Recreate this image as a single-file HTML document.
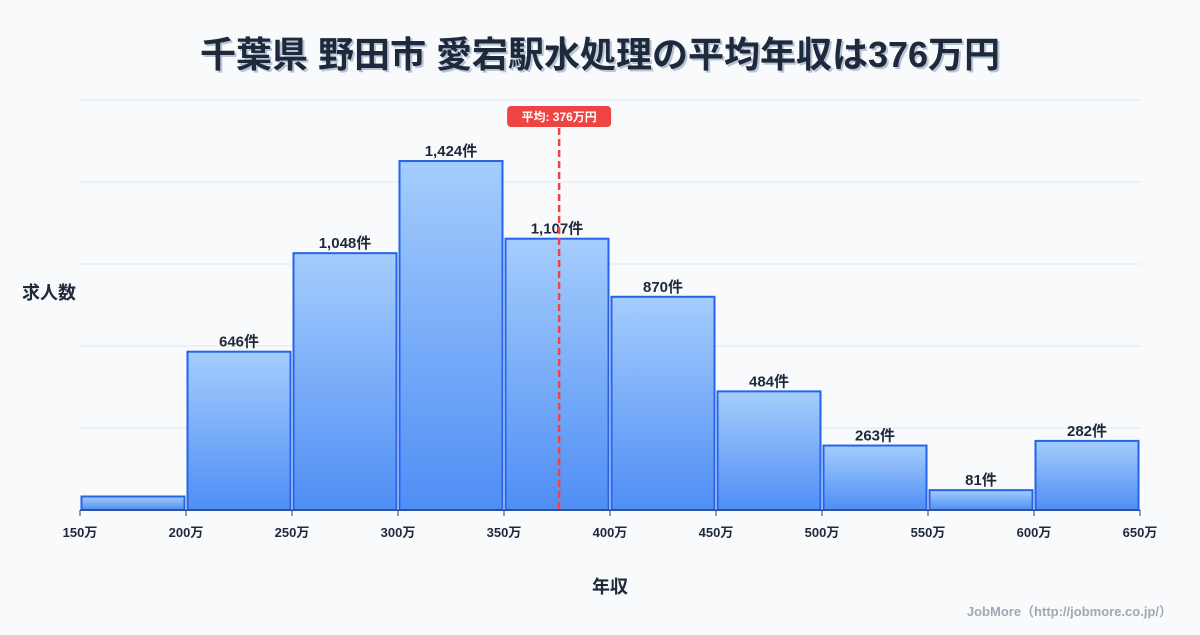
<!DOCTYPE html>
<html><head><meta charset="utf-8"><style>
body{margin:0;background:#f8fafc;font-family:"Liberation Sans","Noto Sans CJK JP",sans-serif}
svg text{font-family:"Liberation Sans","Noto Sans CJK JP",sans-serif}
</style></head><body>
<svg id="c" width="1200" height="630">
<defs><linearGradient id="g" x1="0" y1="0" x2="0" y2="1"><stop offset="0" stop-color="#a5cdfc"/><stop offset="1" stop-color="#4f8ef5"/></linearGradient></defs>
<rect width="1200" height="630" fill="#f8fafc"/>
<text x="600" y="67" text-anchor="middle" font-size="36" font-weight="bold" fill="#1e293b" style="text-shadow:2px 2px 0 #b8c4d6">千葉県 野田市 愛宕駅水処理の平均年収は376万円</text>
<text x="22" y="299" font-size="18" font-weight="bold" fill="#1e293b">求人数</text>
<text x="610" y="593" text-anchor="middle" font-size="18" font-weight="bold" fill="#1e293b">年収</text>
<text x="1172" y="616" text-anchor="end" font-size="13" font-weight="bold" fill="#a0a8b4">JobMore（http://jobmore.co.jp/）</text>
<g id="grid"></g><g id="bars"></g><g id="axis"></g><g id="mean"></g>
</svg>
<script>
const binStarts=[150,200,250,300,350,400,450,500,550,600];
const counts=[55,646,1048,1424,1107,870,484,263,81,282];
const labels=["","646件","1,048件","1,424件","1,107件","870件","484件","263件","81件","282件"];
const xTicks=[150,200,250,300,350,400,450,500,550,600,650];
const meanValue=376;
const NS="http://www.w3.org/2000/svg";
const X0=80,X1=1140,Y0=510,Y1=100,yMax=1673;
const x=v=>X0+(v-150)/500*(X1-X0);
const y=v=>Y0-v/yMax*(Y0-Y1);
function mk(t,a,p){const e=document.createElementNS(NS,t);for(const k in a)e.setAttribute(k,a[k]);p.appendChild(e);return e;}
const grid=document.getElementById('grid');
for(let i=0;i<=5;i++){const gy=Y0-i*(Y0-Y1)/5;const l=mk('line',{x1:X0,x2:X1,y1:gy,y2:gy,stroke:'#e2e8f0','stroke-width':1},grid);

}
const bars=document.getElementById('bars');
binStarts.forEach((b,i)=>{const x0=x(b)+1.5,x1=x(b+50)-1.5,yt=y(counts[i]);
const r=mk('rect',{x:x0,y:yt,width:x1-x0,height:Y0-yt,fill:'url(#g)',stroke:'#2563eb','stroke-width':2},bars);


if(labels[i]){const t=mk('text',{x:(x0+x1)/2,y:yt-5,'text-anchor':'middle','font-size':15,'font-weight':'bold',fill:'#1e293b'},bars);t.textContent=labels[i];

}});
const ax=document.getElementById('axis');
const al=mk('line',{x1:X0,x2:X1,y1:Y0,y2:Y0,stroke:'#334155','stroke-width':1},ax);


xTicks.forEach(v=>{mk('line',{x1:x(v),x2:x(v),y1:Y0,y2:Y0+6,stroke:'#334155'},ax);
const t=mk('text',{x:x(v),y:Y0+27,'text-anchor':'middle','font-size':13,'font-weight':'bold',fill:'#1e293b'},ax);t.textContent=v+'万';

});
const m=document.getElementById('mean');const mx=x(meanValue);
const ml=mk('line',{x1:mx,x2:mx,y1:128,y2:Y0,stroke:'#ef4444','stroke-width':2.5,'stroke-dasharray':'7,4'},m);


const mb=mk('rect',{x:mx-52,y:106,width:104,height:21,rx:4,fill:'#ef4444'},m);


const mt=mk('text',{x:mx,y:121,'text-anchor':'middle','font-size':12,'font-weight':'bold',fill:'#fff'},m);mt.textContent='平均: '+meanValue+'万円';


</script>
</body></html>
